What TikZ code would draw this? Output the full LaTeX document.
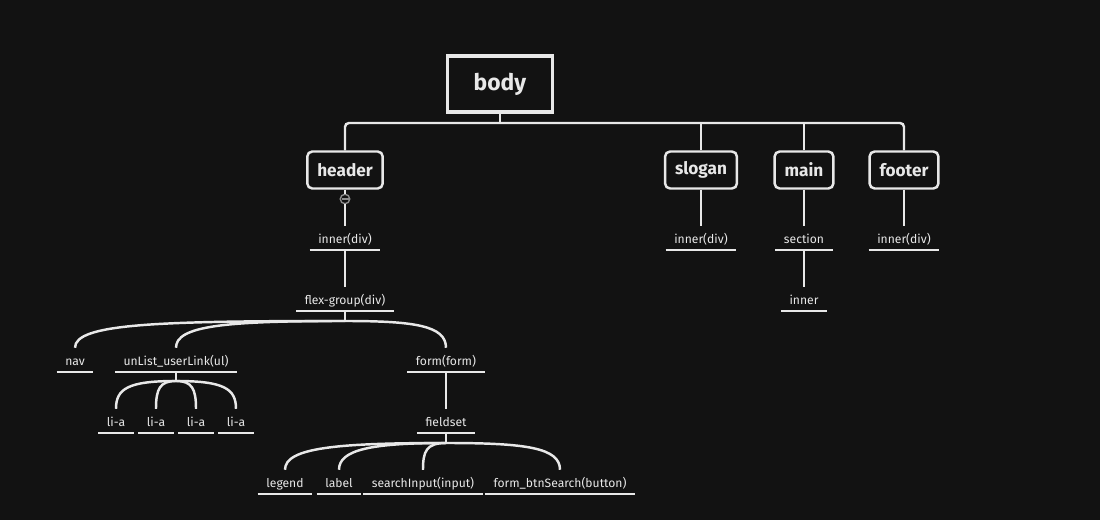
\documentclass[tikz,border=0pt]{standalone}
\usepackage{fontspec}
\setmainfont{Fira Sans}
\definecolor{bg}{HTML}{121212}
\definecolor{ink}{HTML}{E8E8E8}
\definecolor{knob}{HTML}{8C8C8C}

\begin{document}
\begin{tikzpicture}[x=0.02cm, y=-0.02cm, line width=1.4pt, color=ink,
	page/.style={draw, line width=1.8pt, minimum width=2.1cm, minimum height=1.12cm, font=\bfseries\fontsize{13}{15}\selectfont},
	box/.style={draw, rounded corners=0.1cm, minimum height=0.74cm, inner xsep=0.2cm, font=\bfseries\fontsize{9.8}{11}\selectfont},
	tag/.style={minimum height=0.44cm, inner ysep=0pt, inner xsep=0.15cm, text height=1.5ex, text depth=0.4ex, font=\fontsize{6.9}{8}\selectfont}]

	%pixel grid: x to the right, y downwards, 1100 x 520

	\def\busY{123}
	\def\boxY{170}
	\def\rowA{238}
	\def\rowB{299}
	\def\rowC{360}
	\def\rowD{421}
	\def\rowE{482}

	\fill [bg] (0,0) rectangle (1100,520);

	%top level
	\node [page] (body) at (500,84) {body};
	\coordinate (bus) at (500,\busY);

	\foreach \name/\position in {header/345, slogan/701, main/804, footer/904}
   {
		\node [box] (\name) at (\position,\boxY) {\name};
   }

	\draw (body) -- (bus);
	\draw [rounded corners=0.08cm] (header) |- (bus) -| (footer);
	\draw (slogan) -- (slogan |- bus);
	\draw (main) -- (main |- bus);

	%header branch
	\node [tag] (hInner) at (345,\rowA) {inner(div)};
	\node [tag] (flex) at (345,\rowB) {flex-group(div)};
	\node [circle, draw=knob, fill=bg, line width=0.8pt, minimum size=0.19cm, inner sep=0pt] (knob) at (345,199) {};
	\draw (header) -- (knob);
	\draw (knob) -- (hInner.north);
	\draw [knob, line width=0.8pt] (341.5,199) -- (348.5,199);
	\draw (hInner.south) -- (flex.north);

	\node [tag] (nav) at (75,\rowC) {nav};
	\node [tag] (ul) at (176,\rowC) {unList\_userLink(ul)};
	\node [tag] (form) at (446,\rowC) {form(form)};
	\coordinate (forkFlex) at (345,321);

	\draw (flex.south) -- (forkFlex);
	\draw (forkFlex) .. controls +(-190,0) and +(0,-24) .. (nav.north);
	\draw (forkFlex) .. controls +(-120,0) and +(0,-22) .. (ul.north);
	\draw (forkFlex) .. controls +(70,0) and +(0,-22) .. (form.north);

	%list items
	\coordinate (forkUl) at (176,381);
	\draw (ul.south) -- (forkUl);
	\foreach \i/\position in {1/116, 2/156, 3/196, 4/236}
   {
		\node [tag] (li\i) at (\position,\rowD) {li-a};
		\draw (forkUl) .. controls +(\position*0.8-140.8,0) and +(0,-20) .. (li\i.north);
   }

	%form
	\node [tag] (fieldset) at (446,\rowD) {fieldset};
	\draw (form.south) -- (fieldset.north);
	\coordinate (forkSet) at (446,443);
	\draw (fieldset.south) -- (forkSet);

	\node [tag] (legend) at (285,\rowE) {legend};
	\node [tag] (label) at (339,\rowE) {label};
	\node [tag] (search) at (423,\rowE) {searchInput(input)};
	\node [tag] (button) at (560,\rowE) {form\_btnSearch(button)};

	\draw (forkSet) .. controls +(-110,0) and +(0,-22) .. (legend.north);
	\draw (forkSet) .. controls +(-75,0) and +(0,-20) .. (label.north);
	\draw (forkSet) .. controls +(-20,0) and +(0,-18) .. (search.north);
	\draw (forkSet) .. controls +(80,0) and +(0,-22) .. (button.north);

	%other branches
	\node [tag] (sInner) at (701,\rowA) {inner(div)};
	\node [tag] (section) at (804,\rowA) {section};
	\node [tag] (mInner) at (804,\rowB) {inner};
	\node [tag] (fInner) at (904,\rowA) {inner(div)};

	\draw (slogan) -- (sInner.north);
	\draw (main) -- (section.north);
	\draw (section.south) -- (mInner.north);
	\draw (footer) -- (fInner.north);

	%underlines
	\foreach \n in {hInner, flex, nav, ul, form, li1, li2, li3, li4, fieldset, legend, label, search, button, sInner, section, mInner, fInner}
   {
		\draw (\n.south west) -- (\n.south east);
   }

\end{tikzpicture}
\end{document}
